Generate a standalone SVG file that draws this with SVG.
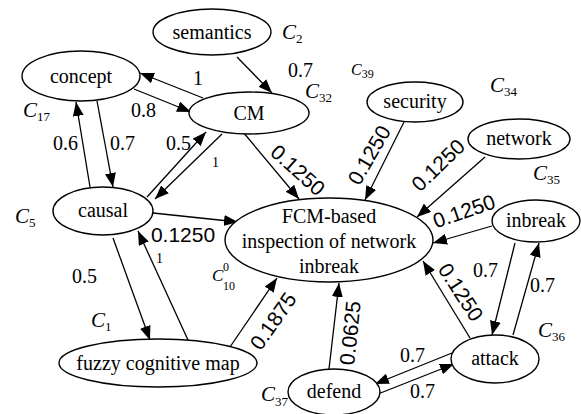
<svg xmlns="http://www.w3.org/2000/svg" width="581" height="414" viewBox="0 0 581 414">
<defs>
<marker id="ah" markerUnits="userSpaceOnUse" markerWidth="14" markerHeight="11" refX="14" refY="5.5" orient="auto">
<path d="M0,0 L14,5.5 L0,11 z" fill="#000"/>
</marker>
<style>
.n ellipse{fill:#fff;stroke:#000;stroke-width:1.4}
.sf{font-family:"Liberation Serif","Times New Roman",Times,Tinos,"Nimbus Roman","Nimbus Roman No9 L",FreeSerif,"Noto Serif","DejaVu Serif",serif}
.t{font-size:20px;fill:#000;text-anchor:middle}
.w{font-size:20px;fill:#000}
.ws{font-size:14px;fill:#000}
.s{font-family:"Liberation Sans",Arial,sans-serif;font-size:21px;fill:#000;text-anchor:middle}
.c{font-size:21px;font-style:italic;fill:#000}
.sub{font-style:normal;font-size:13px}
.e line{stroke:#000;stroke-width:1.3;marker-end:url(#ah)}
</style>
</defs>
<rect width="581" height="414" fill="#fff"/>
<g id="connectors" class="e">
<line x1="237" y1="57" x2="272" y2="93"/>
<line x1="203" y1="98" x2="140" y2="73"/>
<line x1="134" y1="89" x2="191" y2="112"/>
<line x1="90" y1="187" x2="76" y2="102"/>
<line x1="97" y1="101" x2="113" y2="187"/>
<line x1="147" y1="197" x2="206" y2="132"/>
<line x1="222" y1="134" x2="155" y2="199"/>
<line x1="243" y1="132" x2="299" y2="199"/>
<line x1="404" y1="122" x2="365" y2="200"/>
<line x1="485" y1="157" x2="417" y2="217"/>
<line x1="492" y1="226" x2="433" y2="243"/>
<line x1="515" y1="243" x2="492" y2="335"/>
<line x1="513" y1="335" x2="539" y2="243"/>
<line x1="470" y1="338" x2="423" y2="261"/>
<line x1="452" y1="353" x2="375" y2="384"/>
<line x1="378" y1="394" x2="454" y2="364"/>
<line x1="329" y1="369" x2="339" y2="283"/>
<line x1="230" y1="347" x2="277" y2="278"/>
<line x1="153" y1="213" x2="238" y2="222"/>
<line x1="113" y1="238" x2="150" y2="340"/>
<line x1="188" y1="340" x2="138" y2="231"/>
</g>
<g id="edge-labels" class="sf">
<text class="w" x="288" y="77">0.7</text>
<text class="w" x="193" y="85">1</text>
<text class="w" x="131" y="117">0.8</text>
<text class="w" x="53" y="150">0.6</text>
<text class="w" x="110" y="150">0.7</text>
<text class="w" x="166" y="150">0.5</text>
<text class="ws" x="212" y="167">1</text>
<text class="w" x="72" y="283">0.5</text>
<text class="ws" x="156" y="263">1</text>
<text class="w" x="473" y="277">0.7</text>
<text class="w" x="530" y="292">0.7</text>
<text class="w" x="400" y="362">0.7</text>
<text class="w" x="410" y="398">0.7</text>
</g>
<g id="weight-labels">
<text class="s" x="183" y="242">0.1250</text>
<text class="s" x="298" y="177.5" transform="rotate(42 298 170)">0.1250</text>
<text class="s" x="369" y="162.5" transform="rotate(-60 369 155)">0.1250</text>
<text class="s" x="438" y="172.5" transform="rotate(-44 438 165)">0.1250</text>
<text class="s" x="464" y="218.5" transform="rotate(-19 464 211)">0.1250</text>
<text class="s" x="461" y="299.5" transform="rotate(57 461 292)">0.1250</text>
<text class="s" x="350" y="340.5" transform="rotate(-84 350 333)">0.0625</text>
<text class="s" x="273" y="328.5" transform="rotate(-55 273 321)">0.1875</text>
</g>
<g id="concept-labels" class="sf">
<text class="c" x="282" y="39">C<tspan class="sub" dy="4">2</tspan></text>
<text class="c" x="23" y="117">C<tspan class="sub" dy="4">17</tspan></text>
<text class="c" x="305" y="98">C<tspan class="sub" dy="4">32</tspan></text>
<text class="c" x="351" y="75" style="font-size:16px">C<tspan class="sub" dy="3" style="font-size:12px">39</tspan></text>
<text class="c" x="490" y="92">C<tspan class="sub" dy="4">34</tspan></text>
<text class="c" x="533" y="180">C<tspan class="sub" dy="4">35</tspan></text>
<text class="c" x="15" y="223">C<tspan class="sub" dy="4">5</tspan></text>
<text class="c" x="91" y="327">C<tspan class="sub" dy="4">1</tspan></text>
<text class="c" x="212" y="281" style="font-size:17px">C</text>
<text class="c" x="223" y="271" style="font-size:12px;font-style:normal">0</text>
<text class="c" x="223" y="290" style="font-size:12px;font-style:normal">10</text>
<text class="c" x="538" y="337">C<tspan class="sub" dy="4">36</tspan></text>
<text class="c" x="261" y="401">C<tspan class="sub" dy="5">37</tspan></text>
</g>
<g id="nodes" class="sf">
<g id="semantics" class="n"><ellipse cx="212" cy="32" rx="59" ry="23"/><text class="t" x="212" y="39">semantics</text></g>
<g id="concept" class="n"><ellipse cx="81" cy="76" rx="59" ry="25"/><text class="t" x="81" y="83">concept</text></g>
<g id="CM" class="n"><ellipse cx="249" cy="113" rx="60" ry="21"/><text class="t" x="249" y="120">CM</text></g>
<g id="security" class="n"><ellipse cx="415" cy="102" rx="48" ry="20"/><text class="t" x="415" y="108">security</text></g>
<g id="network" class="n"><ellipse cx="519" cy="139" rx="51" ry="20"/><text class="t" x="519" y="145">network</text></g>
<g id="causal" class="n"><ellipse cx="103" cy="211" rx="50" ry="24"/><text class="t" x="103" y="217">causal</text></g>
<g id="main" class="n"><ellipse cx="329" cy="240" rx="104" ry="42"/><text class="t" x="329" y="223">FCM-based</text><text class="t" x="329" y="248">inspection of network</text><text class="t" x="329" y="273">inbreak</text></g>
<g id="inbreak" class="n"><ellipse cx="536" cy="221" rx="44" ry="21"/><text class="t" x="536" y="227">inbreak</text></g>
<g id="fuzzy" class="n"><ellipse cx="158" cy="363" rx="99" ry="24"/><text class="t" x="158" y="370">fuzzy cognitive map</text></g>
<g id="attack" class="n"><ellipse cx="495" cy="359" rx="44" ry="24"/><text class="t" x="495" y="365">attack</text></g>
<g id="defend" class="n"><ellipse cx="334" cy="392" rx="46" ry="23"/><text class="t" x="334" y="398">defend</text></g>
</g>
</svg>
